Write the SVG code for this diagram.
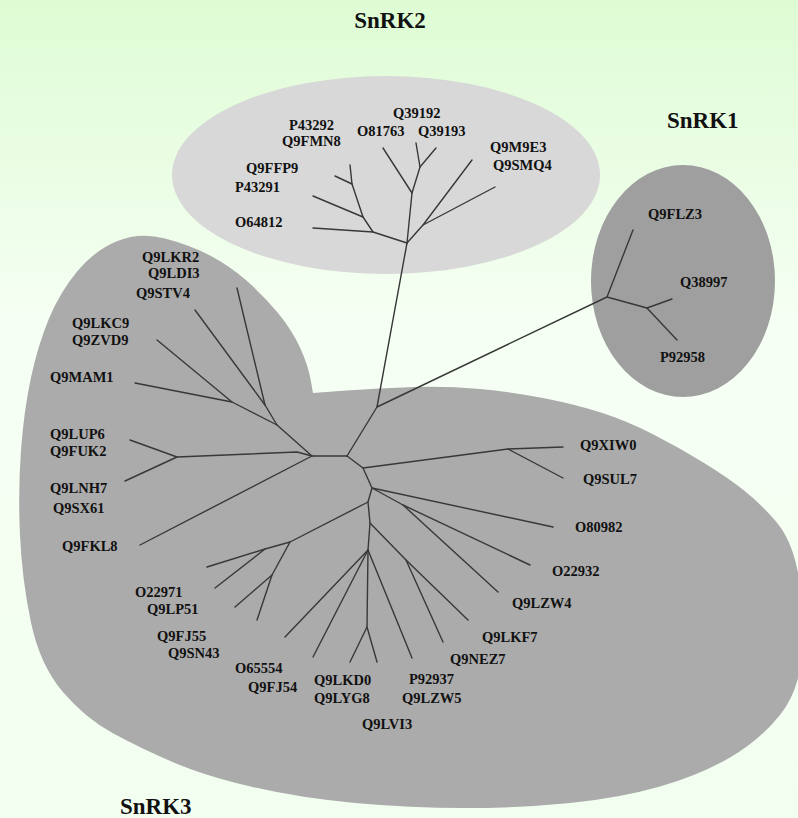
<svg xmlns="http://www.w3.org/2000/svg" width="798" height="818" viewBox="0 0 798 818">
<defs>
<linearGradient id="bg" x1="0" y1="0" x2="0" y2="1">
<stop offset="0" stop-color="#defcd4"/>
<stop offset="0.4" stop-color="#f6fff4"/>
<stop offset="1" stop-color="#f2fff0"/>
</linearGradient>
<style>
.lbl{font-family:"Liberation Serif","Times New Roman",serif;font-weight:bold;font-size:14.5px;fill:#111}
.ttl{font-family:"Liberation Serif","Times New Roman",serif;font-weight:bold;font-size:23px;fill:#111}
.br{fill:none;stroke:#383838;stroke-width:1.4;stroke-linecap:round;stroke-linejoin:round}
</style>
</defs>
<rect x="0" y="0" width="798" height="818" fill="url(#bg)"/>

<g id="cluster-snrk3">
<path fill="#ababab" d="M313,393 L310.5,379 Q308,365 300,347.5 Q292,330 278,313 Q264,296 247,281 Q230,266 210,255.5 Q190,245 165,238.5 Q140,232 117.5,241 Q95,250 77.5,271 Q60,292 49,318.5 Q38,345 31,377.5 Q24,410 21,450 Q18,490 20,535 Q22,580 31,622.5 Q40,665 62.5,691.5 Q85,718 112.5,733 Q140,748 172.5,762 Q205,776 252.5,787 Q300,798 355,803 Q410,808 465,808 Q520,808 570,803 Q620,798 660,786.5 Q700,775 730,757.5 Q760,740 780,715 Q800,690 802.5,650 Q805,610 798.5,575 Q792,540 776,521.5 Q760,503 743.5,490 Q727,477 702.5,462 Q678,447 652.5,434 Q627,421 602.5,413 Q578,405 545.5,398.5 Q513,392 480,389 Q447,386 413.5,387 Q380,388 346.5,390.5 L313,393 Z"/>
<text class="ttl" x="120" y="814">SnRK3</text>
</g>
<g id="cluster-snrk2">
<ellipse cx="386" cy="175" rx="214" ry="99" fill="#d8d8d8"/>
<text class="ttl" x="390" y="28" text-anchor="middle">SnRK2</text>
</g>
<g id="cluster-snrk1">
<ellipse cx="683" cy="281" rx="92" ry="116" fill="#9f9f9f"/>
<text class="ttl" x="667" y="128">SnRK1</text>
</g>

<g id="connectors" class="br">
<!-- SnRK2 subtree -->
<polyline points="407,243 412,193 383,148"/>
<polyline points="412,193 420,167 416,143"/>
<polyline points="420,167 436,148"/>
<polyline points="407,243 423,225 472,160"/>
<polyline points="423,225 495,187"/>
<polyline points="407,243 373,232 313,228"/>
<polyline points="373,232 363,217 313,196"/>
<polyline points="363,217 352,184 350,165"/>
<polyline points="352,184 335,176"/>
<!-- trunk -->
<polyline points="407,243 377,407 347,456"/>
<!-- SnRK1 subtree -->
<polyline points="377,407 607,297 633,230"/>
<polyline points="607,297 647,308 672,299"/>
<polyline points="647,308 677,340"/>
<!-- SnRK3 subtree -->
<polyline points="347,456 312,456 297,452 177,457 130,440"/>
<polyline points="177,457 125,481"/>
<polyline points="312,456 140,545"/>
<polyline points="312,456 277,425 265,405 237,288"/>
<polyline points="265,405 195,310"/>
<polyline points="277,425 232,402 157,340"/>
<polyline points="232,402 135,383"/>
<polyline points="347,456 363,468 508,449 563,447"/>
<polyline points="508,449 563,478"/>
<polyline points="363,468 372,488 553,527"/>
<polyline points="372,488 403,505 530,565"/>
<polyline points="403,505 498,592"/>
<polyline points="372,488 368,502 290,542 265,549 207,567"/>
<polyline points="265,549 215,588"/>
<polyline points="290,542 272,575 235,607"/>
<polyline points="272,575 257,620"/>
<polyline points="368,502 370,523 406,560 468,620"/>
<polyline points="406,560 443,642"/>
<polyline points="370,523 368,550 285,637"/>
<polyline points="368,550 313,657"/>
<polyline points="368,550 367,627 350,662"/>
<polyline points="367,627 377,662"/>
<polyline points="368,550 412,658"/>
</g>

<g id="leaf-P43292"><text class="lbl" x="289" y="130">P43292</text></g>
<g id="leaf-Q9FMN8"><text class="lbl" x="282" y="146">Q9FMN8</text></g>
<g id="leaf-Q39192"><text class="lbl" x="393" y="118">Q39192</text></g>
<g id="leaf-O81763"><text class="lbl" x="357" y="136">O81763</text></g>
<g id="leaf-Q39193"><text class="lbl" x="418" y="136">Q39193</text></g>
<g id="leaf-Q9M9E3"><text class="lbl" x="490" y="152">Q9M9E3</text></g>
<g id="leaf-Q9SMQ4"><text class="lbl" x="493" y="170">Q9SMQ4</text></g>
<g id="leaf-Q9FFP9"><text class="lbl" x="246" y="173">Q9FFP9</text></g>
<g id="leaf-P43291"><text class="lbl" x="235" y="192">P43291</text></g>
<g id="leaf-O64812"><text class="lbl" x="235" y="227">O64812</text></g>

<g id="leaf-Q9FLZ3"><text class="lbl" x="648" y="219">Q9FLZ3</text></g>
<g id="leaf-Q38997"><text class="lbl" x="680" y="287">Q38997</text></g>
<g id="leaf-P92958"><text class="lbl" x="660" y="362">P92958</text></g>

<g id="leaf-Q9LKR2"><text class="lbl" x="142" y="262">Q9LKR2</text></g>
<g id="leaf-Q9LDI3"><text class="lbl" x="148" y="278">Q9LDI3</text></g>
<g id="leaf-Q9STV4"><text class="lbl" x="136" y="298">Q9STV4</text></g>
<g id="leaf-Q9LKC9"><text class="lbl" x="72" y="328">Q9LKC9</text></g>
<g id="leaf-Q9ZVD9"><text class="lbl" x="72" y="345">Q9ZVD9</text></g>
<g id="leaf-Q9MAM1"><text class="lbl" x="50" y="382">Q9MAM1</text></g>
<g id="leaf-Q9LUP6"><text class="lbl" x="50" y="439">Q9LUP6</text></g>
<g id="leaf-Q9FUK2"><text class="lbl" x="50" y="456">Q9FUK2</text></g>
<g id="leaf-Q9LNH7"><text class="lbl" x="50" y="493">Q9LNH7</text></g>
<g id="leaf-Q9SX61"><text class="lbl" x="53" y="513">Q9SX61</text></g>
<g id="leaf-Q9FKL8"><text class="lbl" x="62" y="551">Q9FKL8</text></g>
<g id="leaf-O22971"><text class="lbl" x="135" y="597">O22971</text></g>
<g id="leaf-Q9LP51"><text class="lbl" x="147" y="614">Q9LP51</text></g>
<g id="leaf-Q9FJ55"><text class="lbl" x="157" y="641">Q9FJ55</text></g>
<g id="leaf-Q9SN43"><text class="lbl" x="168" y="658">Q9SN43</text></g>
<g id="leaf-O65554"><text class="lbl" x="235" y="673">O65554</text></g>
<g id="leaf-Q9FJ54"><text class="lbl" x="248" y="692">Q9FJ54</text></g>
<g id="leaf-Q9LKD0"><text class="lbl" x="314" y="685">Q9LKD0</text></g>
<g id="leaf-Q9LYG8"><text class="lbl" x="314" y="703">Q9LYG8</text></g>
<g id="leaf-Q9LVI3"><text class="lbl" x="362" y="729">Q9LVI3</text></g>
<g id="leaf-P92937"><text class="lbl" x="409" y="684">P92937</text></g>
<g id="leaf-Q9LZW5"><text class="lbl" x="402" y="703">Q9LZW5</text></g>
<g id="leaf-Q9NEZ7"><text class="lbl" x="450" y="664">Q9NEZ7</text></g>
<g id="leaf-Q9LKF7"><text class="lbl" x="482" y="642">Q9LKF7</text></g>
<g id="leaf-Q9LZW4"><text class="lbl" x="512" y="608">Q9LZW4</text></g>
<g id="leaf-O22932"><text class="lbl" x="552" y="576">O22932</text></g>
<g id="leaf-O80982"><text class="lbl" x="575" y="532">O80982</text></g>
<g id="leaf-Q9XIW0"><text class="lbl" x="580" y="450">Q9XIW0</text></g>
<g id="leaf-Q9SUL7"><text class="lbl" x="583" y="484">Q9SUL7</text></g>
</svg>
